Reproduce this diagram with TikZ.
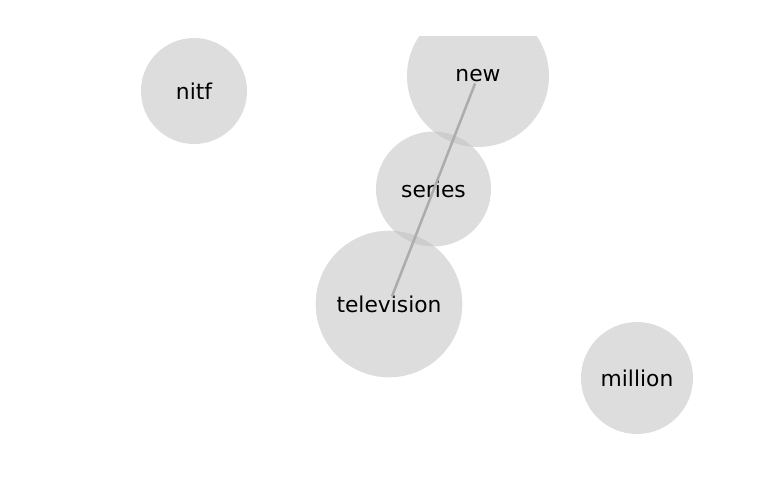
\documentclass[tikz,border=0pt]{standalone}
\usepackage{fontspec}
\setmainfont{DejaVu Sans}
\usepackage{tikz}
\usepackage{xcolor}

\definecolor{nodegray}{RGB}{188,188,188}
\definecolor{edgegray}{RGB}{172,172,172}

\begin{document}
\begin{tikzpicture}[x=0.5pt, y=-0.5pt,
    word/.style={circle, fill=nodegray, fill opacity=0.5, text opacity=1, inner sep=0pt,
      font=\fontsize{10.9}{13}\selectfont},
    link/.style={draw=edgegray, line width=1.25pt, shorten <=4pt, shorten >=4pt}]

  \useasboundingbox (0, 0) rectangle (768, 500);

  \begin{scope}
    \clip (0, 36) rectangle (768, 500);
    \node[word, minimum size=53pt] (nitf) at (194, 91) {nitf};
    \node[word, minimum size=71pt] (new) at (478, 76) {new};
    \node[word, minimum size=57.5pt] (series) at (433.5, 189) {series};
    \node[word, minimum size=73.3pt] (television) at (389, 304) {television};
    \node[word, minimum size=56pt] (million) at (637, 378) {million};
  \end{scope}

  \draw[link] (new.center) -- (television.center);
\end{tikzpicture}
\end{document}
